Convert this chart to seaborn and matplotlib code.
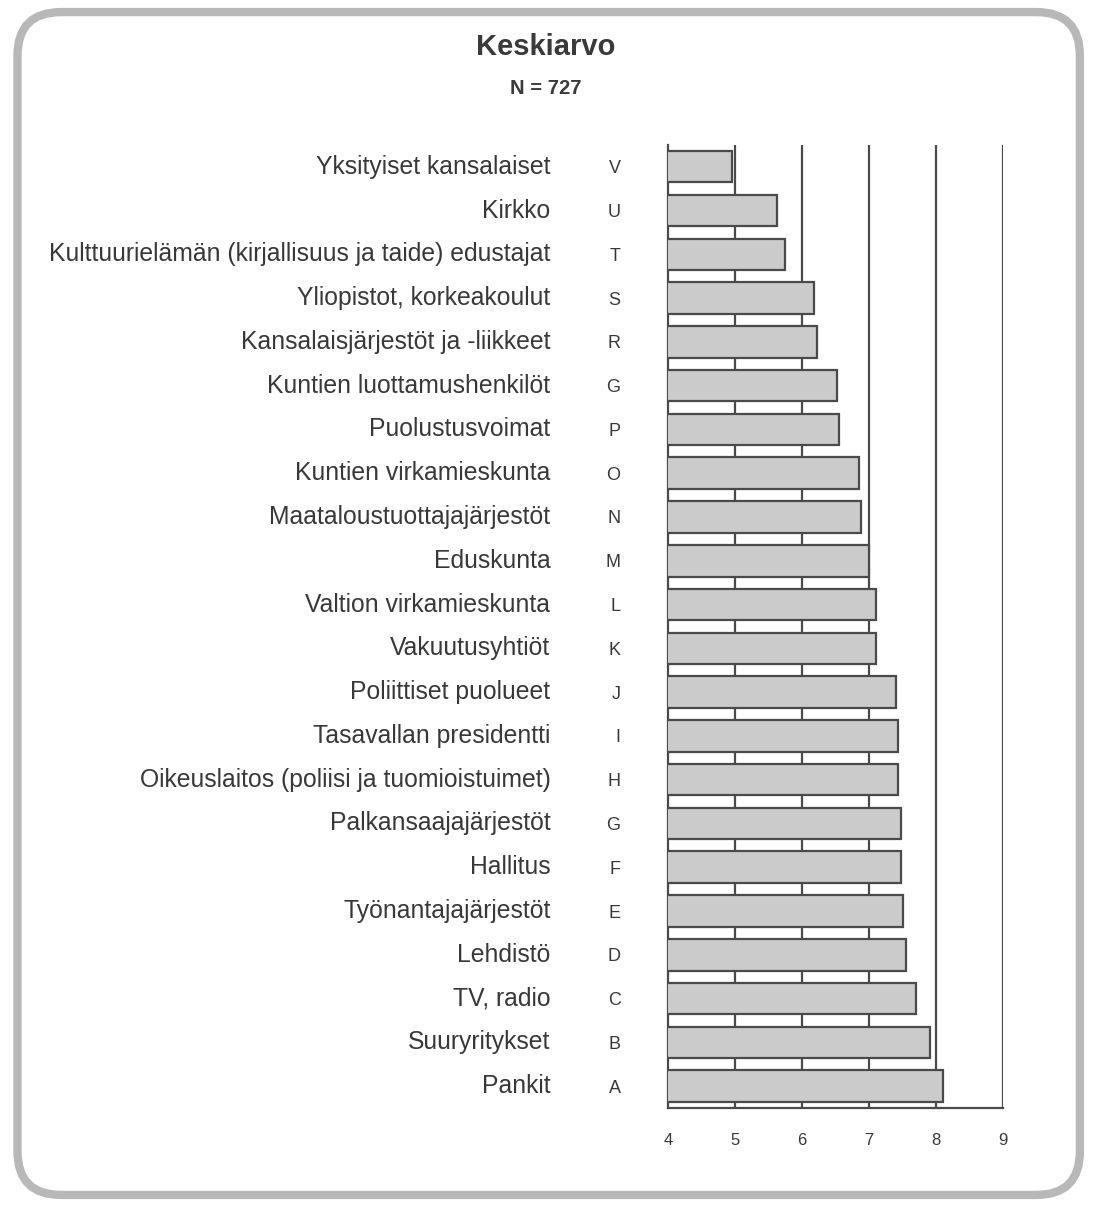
import matplotlib.pyplot as plt
import seaborn as sns
import pandas as pd
from matplotlib.patches import FancyBboxPatch

# Data (ylhäältä alas)
nimet = ['Yksityiset kansalaiset', 'Kirkko',
         'Kulttuurielämän (kirjallisuus ja taide) edustajat',
         'Yliopistot, korkeakoulut', 'Kansalaisjärjestöt ja -liikkeet',
         'Kuntien luottamushenkilöt', 'Puolustusvoimat',
         'Kuntien virkamieskunta', 'Maataloustuottajajärjestöt', 'Eduskunta',
         'Valtion virkamieskunta', 'Vakuutusyhtiöt', 'Poliittiset puolueet',
         'Tasavallan presidentti', 'Oikeuslaitos (poliisi ja tuomioistuimet)',
         'Palkansaajajärjestöt', 'Hallitus', 'Työnantajajärjestöt', 'Lehdistö',
         'TV, radio', 'Suuryritykset', 'Pankit']
kirjaimet = ['V', 'U', 'T', 'S', 'R', 'G', 'P', 'O', 'N', 'M', 'L', 'K', 'J',
             'I', 'H', 'G', 'F', 'E', 'D', 'C', 'B', 'A']
keskiarvo = [4.95, 5.62, 5.75, 6.18, 6.22, 6.52, 6.55, 6.85, 6.88, 7.0, 7.1,
             7.1, 7.4, 7.43, 7.43, 7.48, 7.48, 7.5, 7.55, 7.7, 7.9, 8.1]
x_ticks = [4, 5, 6, 7, 8, 9]

df = pd.DataFrame({'id': range(len(nimet)), 'arvo': keskiarvo})

sns.set_style('white')
plt.rcParams['font.family'] = ['Liberation Sans', 'DejaVu Sans']
teksti = '#383838'
viiva = '#4a4a4a'
kapea = ['Liberation Sans Narrow', 'Liberation Sans']

fig = plt.figure(figsize=(10.93, 12.07), dpi=100)
ax = fig.add_axes([0.611, 0.082, 0.307, 0.798])

sns.barplot(data=df, x='arvo', y='id', orient='h', order=list(range(len(nimet))),
            color='#cbcbcb', edgecolor=viiva, linewidth=1.6, width=0.72,
            saturation=1, ax=ax, zorder=3)

ax.set_xlim(4, 9)
ax.set_ylim(len(nimet) - 0.5, -0.5)
ax.set_xticks(x_ticks)
ax.set_xticklabels([str(t) for t in x_ticks], family=kapea, fontsize=12, color=teksti)
ax.set_yticks(range(len(nimet)))
ax.set_yticklabels(kirjaimet, family=kapea, fontsize=13, color=teksti)
ax.set_yticks([i - 0.5 for i in range(len(nimet))], minor=True)
ax.tick_params(axis='y', which='major', length=0, pad=34)
ax.tick_params(axis='y', which='minor', length=14, width=1.6, direction='inout', color=viiva)
ax.tick_params(axis='x', which='major', length=8, width=1.6, direction='inout',
               color=viiva, pad=14)
ax.set_xlabel('')
ax.set_ylabel('')

for x in x_ticks[1:]:
    ax.axvline(x, color=viiva, lw=1.6, zorder=1)

for s in ['top', 'right']:
    ax.spines[s].set_visible(False)
for s in ['left', 'bottom']:
    ax.spines[s].set_color(viiva)
    ax.spines[s].set_linewidth(1.6)

# kategorioiden nimet
for i, n in enumerate(nimet):
    ax.text(-0.35, i, n, transform=ax.get_yaxis_transform(), ha='right',
            va='center', fontsize=17.8, color=teksti)

fig.text(0.499, 0.961, 'Keskiarvo', ha='center', va='center', fontsize=21,
         fontweight='bold', color='#3a3a3a')
fig.text(0.499, 0.927, 'N = 727', ha='center', va='center', fontsize=14.5,
         fontweight='bold', color='#3a3a3a')

# pyöristetty kehys
kehys = FancyBboxPatch((0.016, 0.010), 0.972, 0.980,
                       boxstyle='round,pad=0,rounding_size=0.04',
                       transform=fig.transFigure, fill=False,
                       edgecolor='#b8b8b8', linewidth=6, mutation_aspect=1093 / 1207)
fig.patches.append(kehys)

plt.savefig('out.png', dpi=100)
